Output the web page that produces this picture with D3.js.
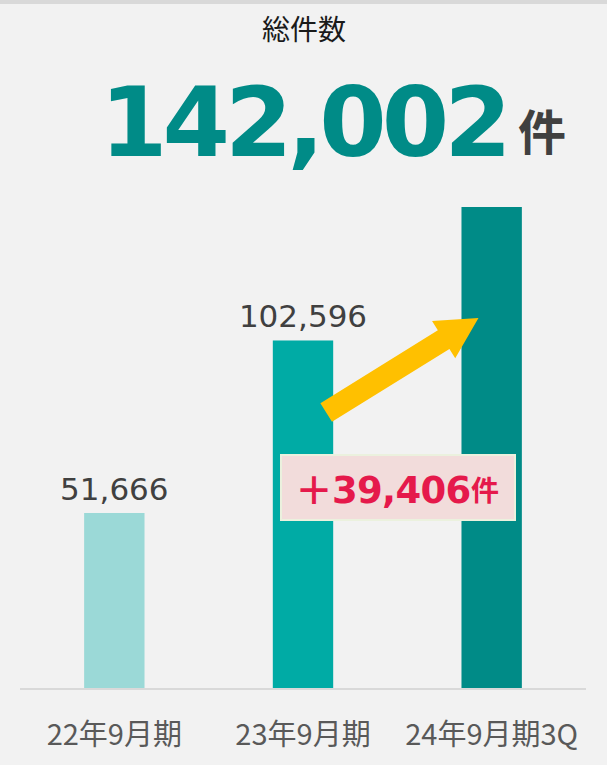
<!DOCTYPE html>
<html>
<head>
<meta charset="utf-8">
<script src="https://cdn.jsdelivr.net/npm/d3@7"></script>
<style>
  html, body { margin: 0; padding: 0; background: #f2f2f2; }
  svg { display: block; }
</style>
</head>
<body>
<script>
  // chart data
  var categories = ['22年9月期', '23年9月期', '24年9月期3Q'];
  var values = [51666, 102596, 142002];
  var barColors = ['#9bd9d7', '#00aba5', '#008b87'];
  var title = '総件数';
  var total = 142002;
  var increase = values[2] - values[1];

  var W = 607, H = 765;
  var jpFont = '"Noto Sans CJK JP", "Noto Sans", sans-serif';
  var numFont = '"DejaVu Sans", Verdana, sans-serif';

  var svg = d3.select('body').append('svg')
    .attr('width', W)
    .attr('height', H);

  svg.append('rect').attr('width', W).attr('height', H).attr('fill', '#f2f2f2');
  // top strip
  svg.append('rect').attr('width', W).attr('height', 4).attr('fill', '#d9d9d9');

  var x = d3.scaleBand()
    .domain(categories)
    .range([20, 586])
    .paddingInner(0.68)
    .paddingOuter(0.34);

  var y = d3.scaleLinear()
    .domain([0, total])
    .range([688, 207]);

  // title
  svg.append('text')
    .attr('x', 304).attr('y', 40)
    .attr('text-anchor', 'middle')
    .attr('font-family', jpFont)
    .attr('font-size', 28)
    .attr('fill', '#1a1a1a')
    .text(title);

  // headline total + unit, one text element
  var head = svg.append('text')
    .attr('x', 100).attr('y', 156)
    .attr('font-weight', 'bold');
  head.append('tspan')
    .attr('font-family', numFont)
    .attr('font-size', 97)
    .attr('letter-spacing', -5)
    .attr('fill', '#008b87')
    .text(d3.format(',')(total));
  head.append('tspan')
    .attr('x', 518).attr('dy', -6)
    .attr('font-family', jpFont)
    .attr('font-size', 48)
    .attr('fill', '#404040')
    .text('件');

  // bars
  svg.selectAll('rect.bar')
    .data(values)
    .enter().append('rect')
    .attr('class', 'bar')
    .attr('x', function(d, i) { return x(categories[i]); })
    .attr('y', function(d) { return y(d); })
    .attr('width', x.bandwidth())
    .attr('height', function(d) { return y(0) - y(d); })
    .attr('fill', function(d, i) { return barColors[i]; });

  // value labels (not for the last bar, shown as headline)
  svg.selectAll('text.val')
    .data(values.slice(0, 2))
    .enter().append('text')
    .attr('class', 'val')
    .attr('x', function(d, i) { return x(categories[i]) + x.bandwidth() / 2; })
    .attr('y', function(d) { return y(d) - 13; })
    .attr('text-anchor', 'middle')
    .attr('font-family', numFont)
    .attr('font-size', 31)
    .attr('fill', '#404040')
    .text(d3.format(','));

  // baseline
  svg.append('line')
    .attr('x1', 20).attr('x2', 586)
    .attr('y1', y(0) + 1).attr('y2', y(0) + 1)
    .attr('stroke', '#d9d9d9')
    .attr('stroke-width', 2);

  // category labels
  svg.selectAll('text.cat')
    .data(categories)
    .enter().append('text')
    .attr('class', 'cat')
    .attr('x', function(d) { return x(d) + x.bandwidth() / 2; })
    .attr('y', 745)
    .attr('text-anchor', 'middle')
    .attr('font-family', jpFont)
    .attr('font-size', 29)
    .attr('fill', '#595959')
    .text(function(d) { return d; });

  // growth arrow from bar 2 toward top of bar 3
  var ax0 = x(categories[1]) + x.bandwidth() - 7, ay0 = y(values[1]) + 72;
  var ax1 = x(categories[2]) + 17, ay1 = y(values[2]) + 111;
  var ang = Math.atan2(ay1 - ay0, ax1 - ax0);
  var len = Math.hypot(ax1 - ax0, ay1 - ay0);
  var shaftW = 22, headW = 44, headL = 41;
  var arrowPts = [
    [0, -shaftW / 2], [len - headL, -shaftW / 2], [len - headL, -headW / 2],
    [len, 0], [len - headL, headW / 2], [len - headL, shaftW / 2], [0, shaftW / 2]
  ];
  svg.append('polygon')
    .attr('points', arrowPts.map(function(p) { return p.join(','); }).join(' '))
    .attr('transform', 'translate(' + ax0 + ',' + ay0 + ') rotate(' + (ang * 180 / Math.PI) + ')')
    .attr('fill', '#ffc000');

  // increase callout
  var box = svg.append('g').attr('transform', 'translate(281,455)');
  box.append('rect')
    .attr('width', 234).attr('height', 65)
    .attr('fill', '#f2dcdb')
    .attr('stroke', '#ebf1de')
    .attr('stroke-width', 2);
  var t = box.append('text')
    .attr('x', 14).attr('y', 49)
    .attr('font-weight', 'bold')
    .attr('fill', '#e5194b');
  t.append('tspan')
    .attr('font-family', jpFont)
    .attr('font-size', 38)
    .text('＋');
  t.append('tspan')
    .attr('x', 51).attr('dy', -1)
    .attr('font-family', numFont)
    .attr('font-size', 37)
    .attr('letter-spacing', -0.7)
    .text(d3.format(',')(increase));
  t.append('tspan')
    .attr('x', 190).attr('dy', -2)
    .attr('font-family', jpFont)
    .attr('font-size', 28)
    .text('件');
</script>
</body>
</html>
